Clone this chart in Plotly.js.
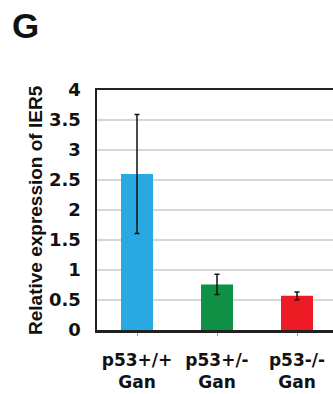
<!DOCTYPE html>
<html>
<head>
<meta charset="utf-8">
<script src="https://cdn.plot.ly/plotly-3.0.1.min.js"></script>
<style>html,body{margin:0;padding:0;background:#fff;}</style>
</head>
<body>
<div id="chart" style="width:333px;height:394px;"></div>
<script>
var categories = ["p53+/+<br>Gan", "p53+/-<br>Gan", "p53-/-<br>Gan"];
var values = [2.6, 0.76, 0.57];
var errors = [0.99, 0.17, 0.065];
var barColors = ["#29a9e1", "#0f9145", "#ed1c24"];
var yTickValues = [0, 0.5, 1, 1.5, 2, 2.5, 3, 3.5, 4];
var yTickLabels = ["0", "0.5", "1", "1.5", "2", "2.5", "3", "3.5", "4"];
var yTitle = "Relative expression of IER5";
var panelLabel = "G";

var trace = {
  type: "bar",
  x: [0, 1, 2],
  y: values,
  width: 0.4,
  marker: {color: barColors, line: {width: 0}},
  error_y: {type: "data", array: errors, visible: true, color: "#111", thickness: 1.5, width: 2.5},
  hoverinfo: "none"
};

var layout = {
  width: 333,
  height: 394,
  margin: {l: 97, r: 0, t: 90, b: 64, pad: 0},
  paper_bgcolor: "#fff",
  plot_bgcolor: "#fff",
  showlegend: false,
  font: {family: "DejaVu Sans", color: "#111"},
  xaxis: {
    range: [-0.5, 2.45],
    tickmode: "array",
    tickvals: [0, 1, 2],
    ticktext: categories,
    tickson: "boundaries",
    ticks: "outside",
    ticklen: 3,
    tickwidth: 1,
    tickcolor: "#999",
    tickfont: {family: "DejaVu Sans", size: 17, color: "#111", weight: "bold"},
    ticklabelstandoff: 10,
    showline: true,
    linecolor: "#222",
    linewidth: 2.5,
    mirror: true,
    showgrid: false,
    zeroline: false,
    fixedrange: true
  },
  yaxis: {
    range: [0, 4],
    tickmode: "array",
    tickvals: yTickValues,
    ticktext: yTickLabels,
    ticks: "",
    tickfont: {family: "DejaVu Sans", size: 18, color: "#111", weight: "bold"},
    ticklabelstandoff: 10,
    showline: true,
    linecolor: "#222",
    linewidth: 2.5,
    showgrid: true,
    gridcolor: "#d6d6d6",
    gridwidth: 1.5,
    zeroline: false,
    automargin: false,
    fixedrange: true
  },
  annotations: [{
    text: yTitle,
    xref: "paper", yref: "paper",
    x: 0, y: 0.5,
    xanchor: "center", yanchor: "middle",
    xshift: -62,
    textangle: -90,
    showarrow: false,
    font: {family: "Liberation Sans", size: 19, color: "#111", weight: "bold"}
  }, {
    text: panelLabel,
    xref: "paper", yref: "paper",
    x: 0, y: 1,
    xanchor: "left", yanchor: "bottom",
    xshift: -87, yshift: 43,
    showarrow: false,
    font: {family: "Liberation Sans", size: 35, color: "#111", weight: "bold"}
  }]
};

Plotly.newPlot("chart", [trace], layout, {displayModeBar: false, staticPlot: true});
</script>
</body>
</html>
